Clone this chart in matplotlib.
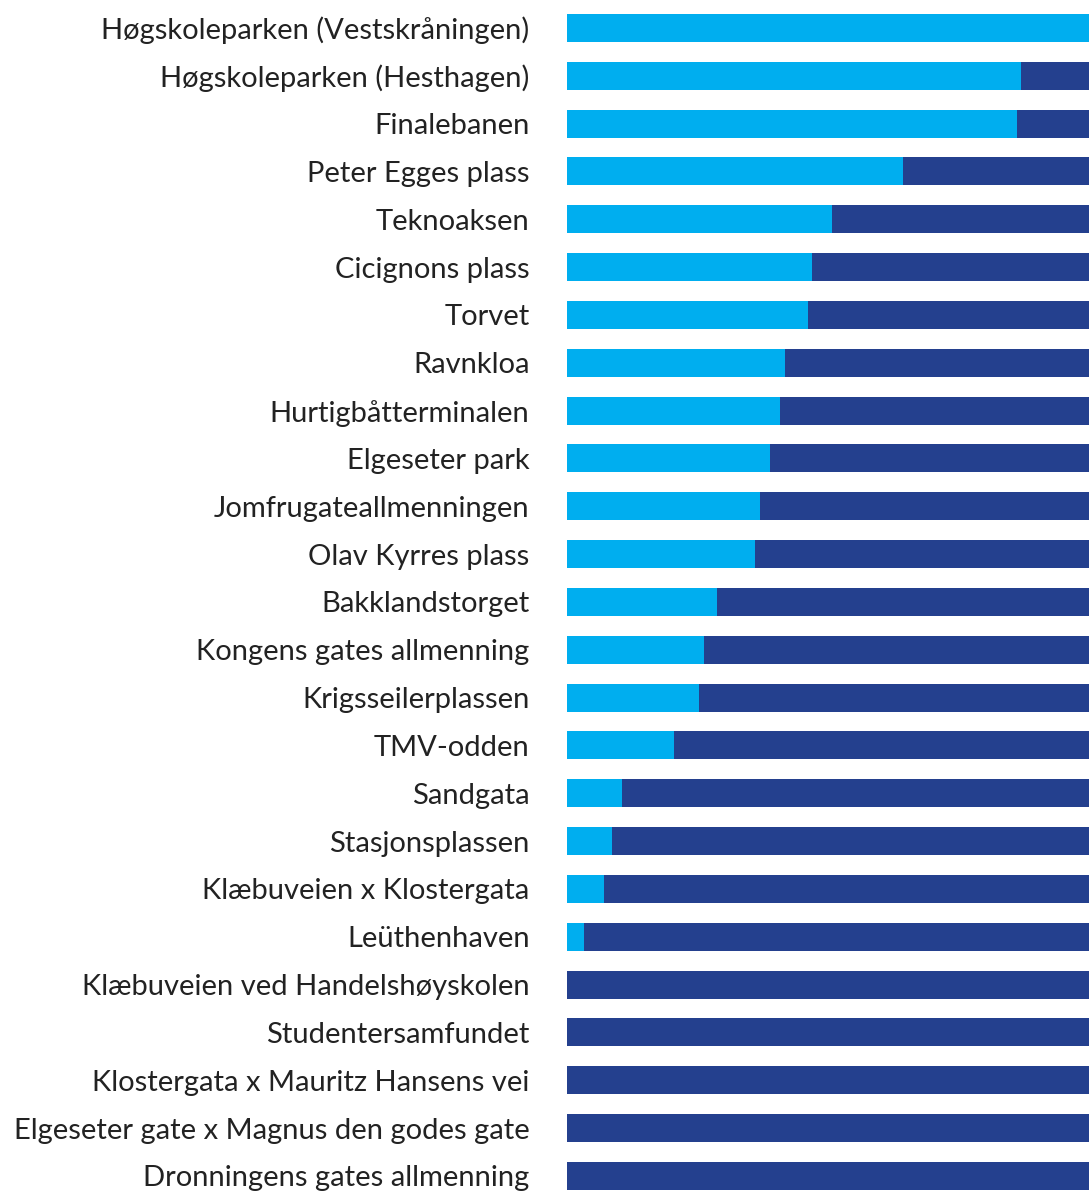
import matplotlib
matplotlib.use('Agg')
import matplotlib.pyplot as plt

# ── Data ─────────────────────────────────────────────────────
places = [
    "Høgskoleparken (Vestskråningen)",
    "Høgskoleparken (Hesthagen)",
    "Finalebanen",
    "Peter Egges plass",
    "Teknoaksen",
    "Cicignons plass",
    "Torvet",
    "Ravnkloa",
    "Hurtigbåtterminalen",
    "Elgeseter park",
    "Jomfrugateallmenningen",
    "Olav Kyrres plass",
    "Bakklandstorget",
    "Kongens gates allmenning",
    "Krigsseilerplassen",
    "TMV-odden",
    "Sandgata",
    "Stasjonsplassen",
    "Klæbuveien x Klostergata",
    "Leüthenhaven",
    "Klæbuveien ved Handelshøyskolen",
    "Studentersamfundet",
    "Klostergata x Mauritz Hansens vei",
    "Elgeseter gate x Magnus den godes gate",
    "Dronningens gates allmenning",
]

# share (%) in light blue; remainder is dark blue
share_light = [100.0, 86.9, 86.2, 64.4, 50.7, 47.0, 46.1, 41.8, 40.9, 38.8,
               37.0, 36.1, 28.8, 26.3, 25.3, 20.5, 10.6, 8.6, 7.1, 3.3,
               0.0, 0.0, 0.0, 0.0, 0.0]
share_dark = [100.0 - v for v in share_light]

LIGHT = "#00AEEF"
DARK = "#24408E"

# ── Plot ─────────────────────────────────────────────────────
W, H = 1089, 1194
fig = plt.figure(figsize=(W / 100, H / 100), dpi=100)
x0 = 567 / W
ax = fig.add_axes([x0, 0, 1 - x0, 1])

pos = list(range(len(places)))
step = 47.83
ax.barh(pos, share_light, height=28 / step, color=LIGHT)
ax.barh(pos, share_dark, left=share_light, height=28 / step, color=DARK)

ax.set_xlim(0, 100)
ax.set_ylim((H - 28) / step, -28 / step)
ax.set_yticks(pos)
ax.set_yticklabels(places, fontfamily="Lato", fontsize=21, color="#222222")
ax.tick_params(axis="y", length=0, pad=27)
ax.set_xticks([])
for s in ax.spines.values():
    s.set_visible(False)

fig.savefig("out.png", dpi=100)
